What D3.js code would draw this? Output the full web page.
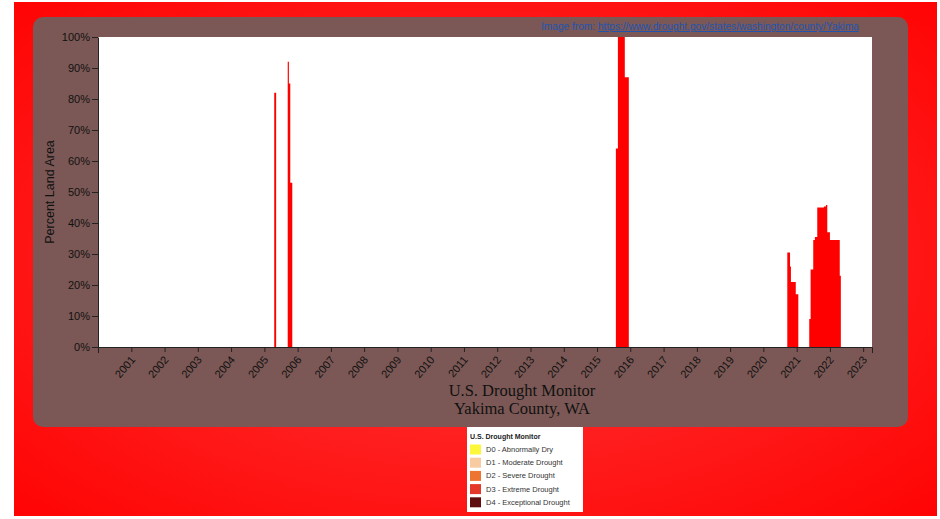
<!DOCTYPE html>
<html>
<head>
<meta charset="utf-8">
<script src="https://cdn.jsdelivr.net/npm/d3@7"></script>
<style>
  html, body { margin: 0; padding: 0; background: #fff; }
  svg { display: block; }
</style>
</head>
<body>
<svg id="chart" width="940" height="519"></svg>
<script>
// ---------- data ----------
const dates = [
  "2000-01-01",
  "2005-04-19", "2005-05-10",
  "2005-09-14", "2005-09-27", "2005-10-12", "2005-11-03",
  "2015-07-27", "2015-08-18", "2015-11-02", "2015-12-16",
  "2020-09-20", "2020-10-20", "2020-10-30", "2020-12-22", "2021-01-19",
  "2021-05-19", "2021-06-03", "2021-07-02", "2021-07-20", "2021-08-15",
  "2021-10-27", "2021-11-18", "2021-12-03", "2022-01-01", "2022-04-19", "2022-05-01",
  "2023-04-08"
];
const droughtValues = [
  0,
  82, 0,
  92, 85, 53, 0,
  64, 100, 87, 0,
  30.5, 26, 21, 17, 0,
  9, 25, 34.5, 35.5, 45,
  45.3, 45.8, 37, 34.5, 23, 0,
  0
];
const yTickValues = [0, 10, 20, 30, 40, 50, 60, 70, 80, 90, 100];
const yearTicks = [2001, 2002, 2003, 2004, 2005, 2006, 2007, 2008, 2009, 2010, 2011,
  2012, 2013, 2014, 2015, 2016, 2017, 2018, 2019, 2020, 2021, 2022, 2023];
const legendLabels = ["D0 - Abnormally Dry", "D1 - Moderate Drought", "D2 - Severe Drought",
  "D3 - Extreme Drought", "D4 - Exceptional Drought"];
const legendColors = ["#fdf73c", "#f8cba0", "#ee7432", "#e4382b", "#5e0e0e"];
const titleLines = ["U.S. Drought Monitor", "Yakima County, WA"];
const sourcePrefix = "Image from: ";
const sourceUrl = "https://www.drought.gov/states/washington/county/Yakima";

// ---------- drawing ----------
(function () {
const svg = d3.select("#chart");
const parse = d3.utcParse("%Y-%m-%d");
const series = dates.map((d, i) => ({ date: parse(d), v: droughtValues[i] }));

// background with radial gradient
const defs = svg.append("defs");
const grad = defs.append("radialGradient").attr("id", "bg")
  .attr("cx", "50%").attr("cy", "50%").attr("r", "75%");
grad.append("stop").attr("offset", "0%").attr("stop-color", "#ff3a3a");
grad.append("stop").attr("offset", "100%").attr("stop-color", "#ff0000");
svg.append("rect").attr("x", 14).attr("y", 2).attr("width", 923).attr("height", 514)
  .attr("fill", "url(#bg)");

// brown panel
svg.append("rect").attr("x", 33).attr("y", 17).attr("width", 875).attr("height", 410)
  .attr("rx", 10).attr("ry", 10).attr("fill", "#7b5855");

const pLeft = 98, pRight = 872, pTop = 37, pBottom = 347;
const x = d3.scaleUtc()
  .domain([parse("2000-01-01"), parse("2023-04-08")])
  .range([pLeft, pRight]);
const y = d3.scaleLinear().domain([0, 100]).range([pBottom, pTop]);

// plot background
svg.append("rect").attr("x", pLeft).attr("y", pTop)
  .attr("width", pRight - pLeft).attr("height", pBottom - pTop).attr("fill", "#ffffff");

// area
const area = d3.area()
  .x(d => x(d.date)).y0(y(0)).y1(d => y(d.v))
  .curve(d3.curveStepAfter);
svg.append("path").datum(series).attr("d", area).attr("fill", "#ff0000");

// y axis
const yAxis = svg.append("g").attr("transform", `translate(${pLeft},0)`)
  .call(d3.axisLeft(y).tickValues(yTickValues).tickFormat(d => d + "%")
    .tickSizeInner(6).tickSizeOuter(0).tickPadding(2));
yAxis.selectAll("text").attr("font-family", "Liberation Sans, Arial, sans-serif")
  .attr("font-size", 11).attr("fill", "#111");
yAxis.selectAll("line,path").attr("stroke", "#222");

// x axis
const xAxis = svg.append("g").attr("transform", `translate(0,${pBottom})`)
  .call(d3.axisBottom(x).tickValues(yearTicks.map(yr => new Date(Date.UTC(yr, 0, 1))))
    .tickFormat(d3.utcFormat("%Y")).tickSizeInner(5).tickSizeOuter(6));
xAxis.selectAll("line,path").attr("stroke", "#222");
xAxis.selectAll("text")
  .attr("font-family", "Liberation Sans, Arial, sans-serif")
  .attr("font-size", 11).attr("fill", "#111")
  .attr("text-anchor", "end").attr("dy", null).attr("y", null)
  .attr("transform", "translate(4,13) rotate(-50)");

// y label
svg.append("text")
  .attr("transform", `translate(54,192) rotate(-90)`)
  .attr("text-anchor", "middle")
  .attr("font-family", "Liberation Sans, Arial, sans-serif")
  .attr("font-size", 12.5).attr("fill", "#111")
  .text("Percent Land Area");

// title
svg.selectAll("text.title").data(titleLines).enter().append("text")
  .attr("class", "title")
  .attr("x", 522).attr("y", (d, i) => 396 + i * 17.5)
  .attr("text-anchor", "middle")
  .attr("font-family", "Liberation Serif, 'Times New Roman', serif")
  .attr("font-size", 16.5).attr("fill", "#111")
  .text(d => d);

// source link
const src = svg.append("text").attr("x", 541).attr("y", 30)
  .attr("font-family", "Liberation Sans Narrow, Liberation Sans, Arial, sans-serif")
  .attr("font-size", 10).attr("fill", "#1f55b0")
  .attr("textLength", 318).attr("lengthAdjust", "spacingAndGlyphs");
src.append("tspan").text(sourcePrefix);
src.append("tspan").attr("text-decoration", "underline").text(sourceUrl);

// legend
const lg = svg.append("g");
lg.append("rect").attr("x", 467).attr("y", 427).attr("width", 116).attr("height", 85)
  .attr("fill", "#ffffff");
lg.append("text").attr("x", 470).attr("y", 438.5)
  .attr("font-family", "Liberation Sans, Arial, sans-serif")
  .attr("font-size", 7).attr("font-weight", "bold").attr("fill", "#222")
  .text("U.S. Drought Monitor");
const rows = lg.selectAll("g.row").data(legendLabels).enter().append("g")
  .attr("class", "row")
  .attr("transform", (d, i) => `translate(470,${444.5 + i * 13.2})`);
rows.append("rect").attr("width", 11).attr("height", 10)
  .attr("fill", (d, i) => legendColors[i]);
rows.append("text").attr("x", 16).attr("y", 7.5)
  .attr("font-family", "Liberation Sans Narrow, Liberation Sans, Arial, sans-serif")
  .attr("font-size", 7.5).attr("fill", "#333")
  .text(d => d);
})();
</script>
</body>
</html>
